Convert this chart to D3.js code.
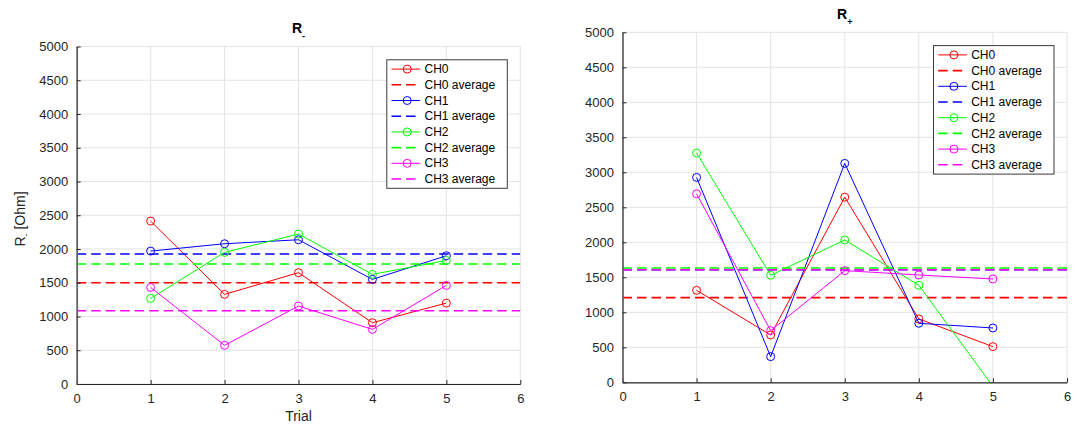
<!DOCTYPE html>
<html>
<head>
<meta charset="utf-8">
<script src="https://cdn.jsdelivr.net/npm/d3@7"></script>
<style>
  html, body { margin: 0; padding: 0; background: #fff; }
  svg { display: block; font-family: "Liberation Sans", Arial, Helvetica, sans-serif; }
</style>
</head>
<body>
<svg id="chart" width="1078" height="424"></svg>
<script>
// Trial numbers and axis ticks
const trials = [1, 2, 3, 4, 5];
const xTickValues = [0, 1, 2, 3, 4, 5, 6];
const yTickValues = [0, 500, 1000, 1500, 2000, 2500, 3000, 3500, 4000, 4500, 5000];

const channelNames = ["CH0", "CH1", "CH2", "CH3"];
const channelColors = ["#ff0000", "#0000ff", "#00ff00", "#ff00ff"];

// R- resistance per trial [Ohm]
const rMinusCH0 = [2414, 1328, 1649, 908, 1199];
const rMinusCH1 = [1969, 2078, 2137, 1550, 1900];
const rMinusCH2 = [1268, 1950, 2221, 1624, 1831];
const rMinusCH3 = [1431, 573, 1155, 809, 1461];

// R+ resistance per trial [Ohm]
const rPlusCH0 = [1314, 676, 2645, 905, 510];
const rPlusCH1 = [2927, 367, 3127, 843, 776];
const rPlusCH2 = [3275, 1529, 2033, 1386, -58];
const rPlusCH3 = [2693, 738, 1595, 1533, 1476];

const svg = d3.select("#chart");
const textColor = "#262626";

function drawPanel(cfg) {
  const x = d3.scaleLinear().domain([0, 6]).range([cfg.left, cfg.right]);
  const y = d3.scaleLinear().domain([0, 5000]).range([cfg.bottom, cfg.top]);
  const g = svg.append("g");

  // clip region for the plotted data
  const clipId = "clip-" + cfg.id;
  svg.append("defs").append("clipPath").attr("id", clipId)
    .append("rect")
    .attr("x", cfg.left).attr("y", cfg.top)
    .attr("width", cfg.right - cfg.left).attr("height", cfg.bottom - cfg.top);

  // grid
  const grid = g.append("g").attr("stroke", "#e3e3e3").attr("stroke-width", 1);
  grid.selectAll("line.v").data(xTickValues).join("line")
    .attr("x1", d => x(d)).attr("x2", d => x(d))
    .attr("y1", cfg.top).attr("y2", cfg.bottom);
  grid.selectAll("line.h").data(yTickValues).join("line")
    .attr("x1", cfg.left).attr("x2", cfg.right)
    .attr("y1", d => y(d)).attr("y2", d => y(d));

  // data series and their averages
  const plot = g.append("g").attr("clip-path", `url(#${clipId})`);
  const line = d3.line().x((d, i) => x(trials[i])).y(d => y(d));
  cfg.series.forEach((vals, k) => {
    const color = channelColors[k];
    plot.append("path").datum(vals)
      .attr("d", line).attr("fill", "none")
      .attr("stroke", color).attr("stroke-width", 1);
    plot.append("g").selectAll("circle").data(vals).join("circle")
      .attr("cx", (d, i) => x(trials[i])).attr("cy", d => y(d))
      .attr("r", 4).attr("fill", "none")
      .attr("stroke", color).attr("stroke-width", 1);
    const avg = d3.mean(vals);
    plot.append("line")
      .attr("x1", x(0)).attr("x2", x(6))
      .attr("y1", y(avg)).attr("y2", y(avg))
      .attr("stroke", color).attr("stroke-width", 1.6)
      .attr("stroke-dasharray", "9.5,5");
  });

  // axes
  const xAxis = d3.axisBottom(x).tickValues(xTickValues).tickFormat(d3.format("d"))
    .tickSizeInner(-4).tickSizeOuter(0).tickPadding(9.5);
  const yAxis = d3.axisLeft(y).tickValues(yTickValues).tickFormat(d3.format("d"))
    .tickSizeInner(-4).tickSizeOuter(0).tickPadding(8.5);

  const gx = g.append("g").attr("transform", `translate(0,${cfg.bottom})`).call(xAxis);
  gx.select(".domain").attr("stroke", textColor).attr("stroke-width", 1.2);
  gx.selectAll(".tick line").attr("stroke", textColor);
  gx.selectAll(".tick text").attr("fill", textColor).attr("font-size", 13)
    .attr("font-family", "Liberation Sans, Arial, sans-serif");

  const gy = g.append("g").attr("transform", `translate(${cfg.left},0)`).call(yAxis);
  gy.select(".domain").attr("stroke", "#5e5e5e").attr("stroke-width", 1.7);
  gy.selectAll(".tick line").attr("stroke", textColor);
  gy.selectAll(".tick text").attr("fill", textColor).attr("font-size", 13)
    .attr("font-family", "Liberation Sans, Arial, sans-serif");

  // title with subscript
  const t = g.append("text")
    .attr("x", (cfg.left + cfg.right) / 2).attr("y", cfg.titleY)
    .attr("text-anchor", "middle").attr("font-weight", "bold")
    .attr("font-size", 14).attr("fill", "#000");
  t.append("tspan").text("R");
  t.append("tspan").attr("font-size", 9).attr("dy", 6).text(cfg.sub);

  if (cfg.xLabel) {
    g.append("text")
      .attr("x", (cfg.left + cfg.right) / 2).attr("y", 421)
      .attr("text-anchor", "middle").attr("font-size", 14)
      .attr("fill", textColor).text(cfg.xLabel);
  }
  if (cfg.yLabel) {
    const yl = g.append("text")
      .attr("transform", `translate(24.5,219) rotate(-90)`)
      .attr("text-anchor", "middle").attr("font-size", 14)
      .attr("fill", textColor);
    yl.append("tspan").text("R");
    yl.append("tspan").attr("font-size", 9).attr("dy", 4).text("-");
    yl.append("tspan").attr("dy", -4).text(" [Ohm]");
  }

  // legend
  const lw = 120.5, lh = 128.5, rowH = 15.7;
  const lx = cfg.right - 13 - lw, ly = cfg.top + 13.3;
  const lg = g.append("g").attr("transform", `translate(${lx},${ly})`);
  lg.append("rect").attr("width", lw).attr("height", lh)
    .attr("fill", "#fff").attr("stroke", "#3a3a3a").attr("stroke-width", 1);
  const entries = [];
  channelNames.forEach((name, k) => {
    entries.push({ label: name, color: channelColors[k], dashed: false });
    entries.push({ label: name + " average", color: channelColors[k], dashed: true });
  });
  entries.forEach((e, i) => {
    const cy = 9.3 + i * rowH;
    lg.append("line")
      .attr("x1", 4.7).attr("x2", 33.4).attr("y1", cy).attr("y2", cy)
      .attr("stroke", e.color)
      .attr("stroke-width", e.dashed ? 1.6 : 1)
      .attr("stroke-dasharray", e.dashed ? "9.5,5" : null);
    if (!e.dashed) {
      lg.append("circle").attr("cx", 20.4).attr("cy", cy).attr("r", 4)
        .attr("fill", "none").attr("stroke", e.color).attr("stroke-width", 1);
    }
    lg.append("text").attr("x", 37.7).attr("y", cy).attr("dy", "0.35em")
      .attr("font-size", 12).attr("fill", "#000").text(e.label);
  });
}

drawPanel({
  id: "minus", left: 76.7, right: 520.3, top: 46.5, bottom: 384,
  titleY: 33.3, sub: "-", xLabel: "Trial", yLabel: true,
  series: [rMinusCH0, rMinusCH1, rMinusCH2, rMinusCH3]
});

drawPanel({
  id: "plus", left: 622.5, right: 1067, top: 32.3, bottom: 382.3,
  titleY: 19, sub: "+", xLabel: null, yLabel: false,
  series: [rPlusCH0, rPlusCH1, rPlusCH2, rPlusCH3]
});
</script>
</body>
</html>
